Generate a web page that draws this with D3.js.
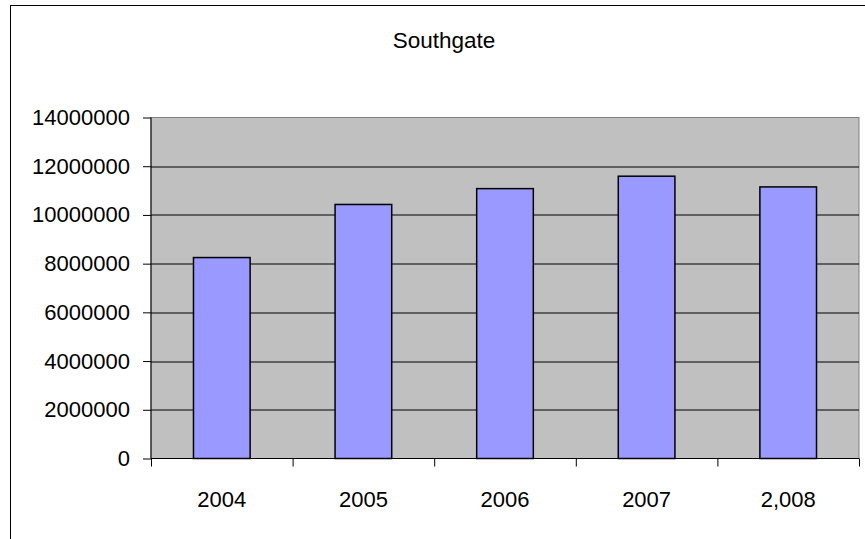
<!DOCTYPE html>
<html>
<head>
<meta charset="utf-8">
<script src="https://cdn.jsdelivr.net/npm/d3@7"></script>
<style>
    body { margin: 0; background: #fff; }
    text { font-family: "Liberation Sans", Arial, sans-serif; fill: #000; }
    .domain { display: none; }
</style>
</head>
<body>
<div id="graph"></div>
<script>
/*
    Data
*/
var years = ["2004", "2005", "2006", "2007", "2,008"]
var totals = [8250000, 10430000, 11080000, 11590000, 11150000]
var yTicks = [0, 2000000, 4000000, 6000000, 8000000, 10000000, 12000000, 14000000]
var title = "Southgate"

/*
    Dimensions
*/
var svgW = 865, svgH = 539
var margin = {top: 117.5, right: 6, bottom: 80.5, left: 151}
var width = 859 - margin.left,
    height = 458.5 - margin.top

var svg = d3.select("#graph").append("svg")
    .attr("width", svgW)
    .attr("height", svgH)

// chart frame
svg.append("rect")
    .attr("x", 10.5).attr("y", 5.5)
    .attr("width", 868).attr("height", 540)
    .attr("fill", "#fff")
    .attr("stroke", "#000")
    .attr("stroke-width", 1)

svg.append("text")
    .attr("x", 444)
    .attr("y", 48)
    .attr("text-anchor", "middle")
    .style("font-size", "22.5px")
    .text(title)

var g = svg.append("g")
    .attr("transform", "translate(" + margin.left + "," + margin.top + ")")

/*
    Scales
*/
var x = d3.scaleBand()
    .domain(years)
    .range([0, width])
    .paddingInner(0.6)
    .paddingOuter(0.3)

var xEdges = d3.scaleLinear()
    .domain([0, years.length])
    .range([0, width])

var y = d3.scaleLinear()
    .domain([0, 14000000])
    .range([height, 0])

// plot background
g.append("rect")
    .attr("width", width)
    .attr("height", height)
    .attr("fill", "#c0c0c0")
    .attr("stroke", "#808080")
    .attr("stroke-width", 1)

// gridlines
g.selectAll(".grid")
    .data(yTicks.slice(1, -1))
    .enter().append("line")
    .attr("class", "grid")
    .attr("x1", 0).attr("x2", width)
    .attr("y1", function(d) { return Math.round(y(d)) + 0.5 })
    .attr("y2", function(d) { return Math.round(y(d)) + 0.5 })
    .attr("stroke", "#000")
    .attr("stroke-width", 1)

// bars
g.selectAll(".bar")
    .data(totals)
    .enter().append("rect")
    .attr("class", "bar")
    .attr("x", function(d, i) { return x(years[i]) })
    .attr("y", function(d) { return y(d) })
    .attr("width", x.bandwidth())
    .attr("height", function(d) { return height - y(d) })
    .attr("fill", "#9999ff")
    .attr("stroke", "#000")
    .attr("stroke-width", 1.5)

/*
    Axes
*/
var yAxis = g.append("g")
    .call(d3.axisLeft(y).tickValues(yTicks).tickSize(8).tickPadding(13).tickFormat(d3.format("d")))
yAxis.selectAll("text").style("font-size", "22px")
yAxis.selectAll("line").attr("stroke", "#000")

g.append("line")
    .attr("x1", 0).attr("x2", 0)
    .attr("y1", 0).attr("y2", height)
    .attr("stroke", "#000")

var xTicks = g.append("g")
    .attr("transform", "translate(0," + height + ")")
    .call(d3.axisBottom(xEdges).ticks(years.length).tickSize(8).tickFormat(""))
xTicks.selectAll("line").attr("stroke", "#000")

g.append("line")
    .attr("x1", 0).attr("x2", width)
    .attr("y1", height).attr("y2", height)
    .attr("stroke", "#000")

var xAxis = g.append("g")
    .attr("transform", "translate(0," + height + ")")
    .call(d3.axisBottom(x).tickSize(0).tickPadding(33))
xAxis.selectAll("text").style("font-size", "22px")
</script>
</body>
</html>
